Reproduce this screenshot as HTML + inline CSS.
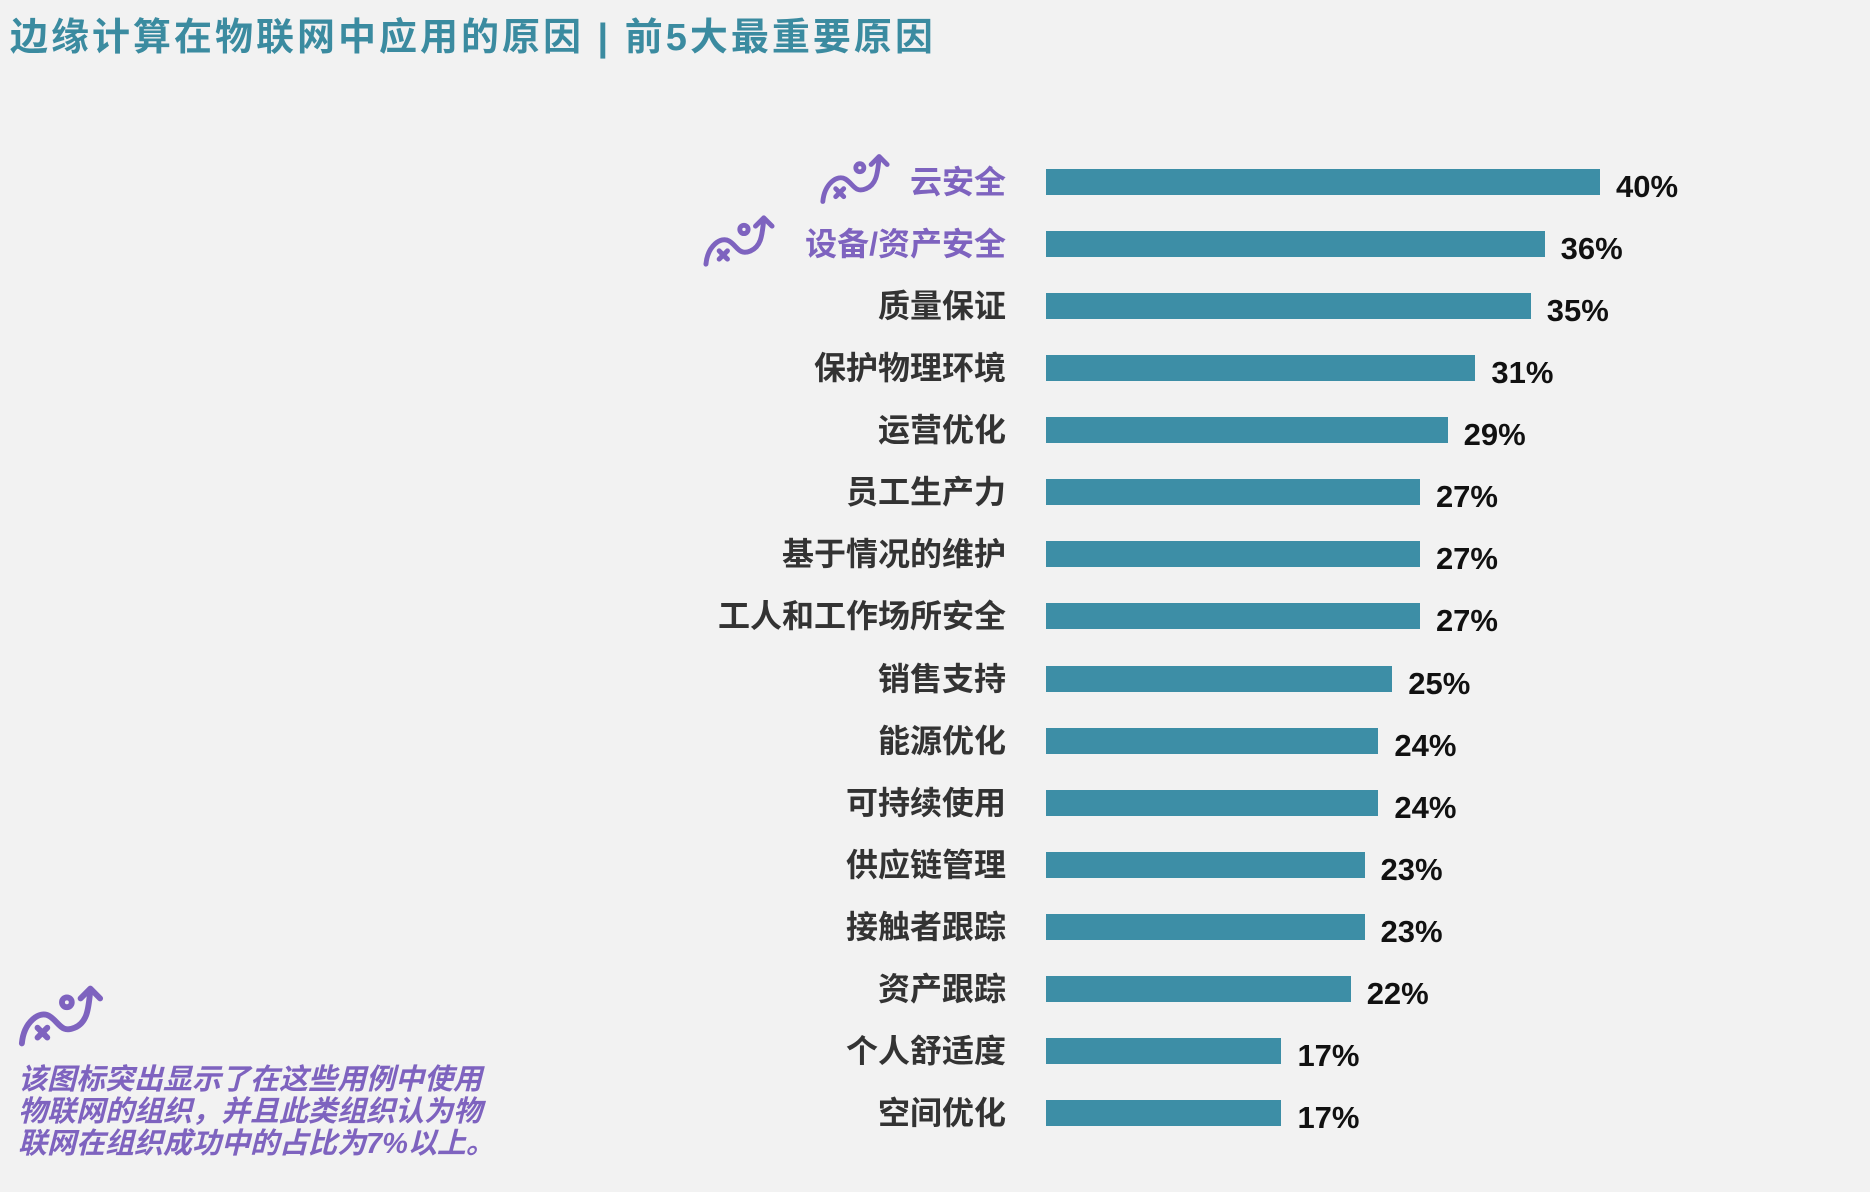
<!DOCTYPE html>
<html><head><meta charset="utf-8"><style>
body{margin:0;width:1870px;height:1192px;background:#f2f2f2;position:relative;overflow:hidden;font-family:"Liberation Sans","Noto Sans CJK SC",sans-serif}
.t{position:absolute;left:10px;top:6px;font-size:38px;color:#3b8ba0;letter-spacing:3px;white-space:nowrap;font-weight:bold}
.l{position:absolute;right:864px;font-size:32px;color:#333;white-space:nowrap;line-height:40px;font-weight:bold}
.b{position:absolute;left:1046px;height:26px;background:#3d8ea6}
.v{position:absolute;font-size:31px;font-weight:bold;color:#111;line-height:40px}
.n{position:absolute;left:18px;top:1064px;font-size:29px;line-height:32px;color:#7e63bf;font-style:italic;font-weight:bold;white-space:nowrap}
svg{position:absolute}
</style></head><body>
<div class="t">边缘计算在物联网中应用的原因 |  前5大最重要原因</div>
<svg width="0" height="0"><defs><g id="ic" fill="none" stroke="#7e63bf" stroke-width="6" stroke-linecap="round" stroke-linejoin="round"><path d="M6 62 C8 40 24 28 34 34 C44 40 46 52 60 46 C74 40 74 24 76 8"/><path d="M66 16 L76 6 L86 16"/><circle cx="52" cy="20" r="5"/><path d="M22 46 L32 56 M32 46 L22 56"/></g></defs></svg>
<svg style="left:818px;top:150px" width="74" height="58" viewBox="0 0 92 68"><use href="#ic"/></svg>
<svg style="left:701px;top:212px" width="76" height="58" viewBox="0 0 92 68"><use href="#ic"/></svg>
<svg style="left:16px;top:982px" width="90" height="68" viewBox="0 0 92 68"><use href="#ic"/></svg>
<div id="c"></div>
<div class="n">该图标突出显示了在这些用例中使用<br>物联网的组织，并且此类组织认为物<br>联网在组织成功中的占比为7%以上。</div>
<script>
var d=[["云安全",40],["设备/资产安全",36],["质量保证",35],["保护物理环境",31],["运营优化",29],["员工生产力",27],["基于情况的维护",27],["工人和工作场所安全",27],["销售支持",25],["能源优化",24],["可持续使用",24],["供应链管理",23],["接触者跟踪",23],["资产跟踪",22],["个人舒适度",17],["空间优化",17]];
var h="";d.forEach(function(r,i){var y=182+i*62.07,w=r[1]*13.85;
h+='<div class="l" style="top:'+(y-20)+'px;'+(i<2?'color:#7e63bf':'')+'">'+r[0]+'</div>';
h+='<div class="b" style="top:'+(y-13)+'px;width:'+w+'px"></div>';
h+='<div class="v" style="top:'+(y-15)+'px;left:'+(1046+w+16)+'px">'+r[1]+'%</div>';});
document.getElementById("c").innerHTML=h;
</script>
</body></html>
